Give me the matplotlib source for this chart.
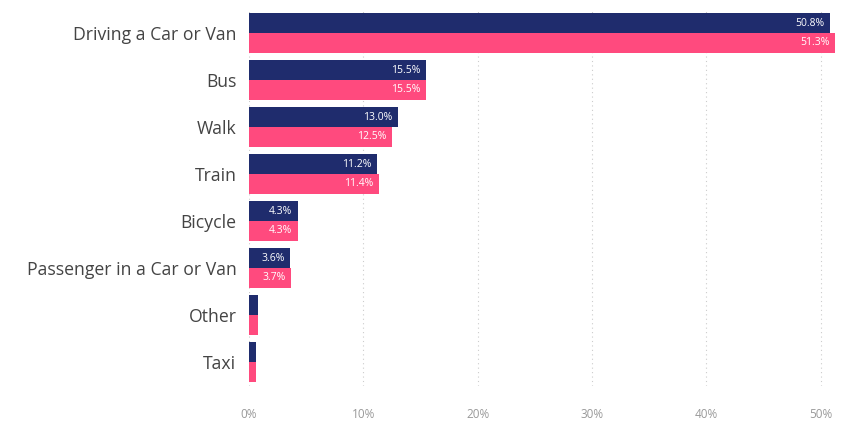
import matplotlib.pyplot as plt
import numpy as np

categories = ['Driving a Car or Van', 'Bus', 'Walk', 'Train', 'Bicycle',
              'Passenger in a Car or Van', 'Other', 'Taxi']
share_a = [50.8, 15.5, 13.0, 11.2, 4.3, 3.6, 0.8, 0.6]
share_b = [51.3, 15.5, 12.5, 11.4, 4.3, 3.7, 0.8, 0.6]
xticks = [0, 10, 20, 30, 40, 50]

navy = '#1f2c6d'
pink = '#ff4a7e'

plt.rcParams['font.family'] = ['Open Sans', 'DejaVu Sans']

fig = plt.figure(figsize=(8.54, 4.30), dpi=100)
ax = fig.add_axes([249 / 854, 1 - 385.5 / 430, (840 - 249) / 854, 376 / 430])

y = np.arange(len(categories))
h = 0.42
ax.barh(y - h / 2, share_a, height=h, color=navy, zorder=3)
ax.barh(y + h / 2, share_b, height=h, color=pink, zorder=3)

for yi, a, b in zip(y, share_a, share_b):
    if a >= 2:
        ax.text(a - 0.5, yi - h / 2, f'{a:.1f}%', color='white', fontsize=7.5,
                ha='right', va='center', zorder=4)
    if b >= 2:
        ax.text(b - 0.5, yi + h / 2, f'{b:.1f}%', color='white', fontsize=7.5,
                ha='right', va='center', zorder=4)

ax.set_xlim(0, 51.7)
ax.set_ylim(len(categories) - 0.5, -0.5)
ax.set_yticks(y)
ax.set_yticklabels(categories, fontsize=12.7, color='#444444')
ax.set_xticks(xticks)
ax.set_xticklabels([f'{t}%' for t in xticks], fontsize=8.5, color='#999999')
ax.tick_params(length=0)
ax.tick_params(axis='x', pad=16)
ax.tick_params(axis='y', pad=9)
ax.grid(axis='x', linestyle=(0, (1, 3)), color='#cccccc', linewidth=0.8, zorder=0)
for s in ax.spines.values():
    s.set_visible(False)

fig.savefig('out.png', dpi=100)
